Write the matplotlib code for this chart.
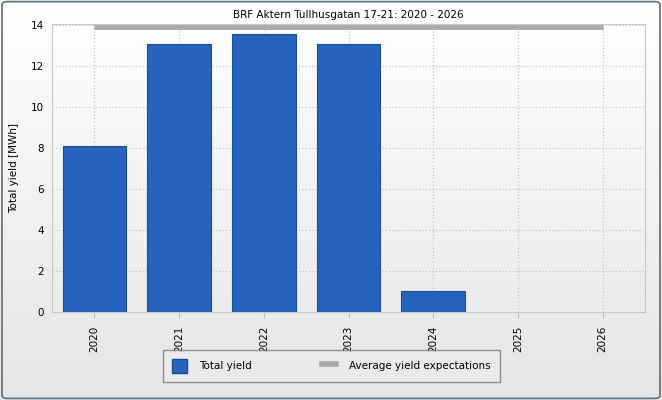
import matplotlib
matplotlib.use("Agg")
import matplotlib.pyplot as plt
import numpy as np
from matplotlib.patches import FancyBboxPatch, Patch
from matplotlib.lines import Line2D

years = ["2020", "2021", "2022", "2023", "2024", "2025", "2026"]
total_yield = [8.12, 13.1, 13.6, 13.1, 1.03, 0, 0]
avg_expectation = 13.9

plt.rcParams['font.family'] = ['DejaVu Sans']
fig = plt.figure(figsize=(6.62, 4.0), dpi=100)

# background gradient
bg = fig.add_axes([0, 0, 1, 1], zorder=-10)
grad = np.linspace(1.0, 0.90, 256).reshape(-1, 1)
bg.imshow(np.dstack([grad, grad, grad]), aspect='auto', extent=[0, 1, 0, 1])
bg.set_xlim(0, 1); bg.set_ylim(0, 1); bg.axis('off')
bg.add_patch(FancyBboxPatch((0.003, 0.004), 0.994, 0.992,
                            boxstyle="round,pad=0,rounding_size=0.008",
                            fill=False, edgecolor='#5f6b75', linewidth=1.2,
                            transform=bg.transAxes))

ax = fig.add_axes([52/662, 88/400, 593/662, 288/400])
ax.patch.set_alpha(0)
x = np.arange(len(years))
vals = np.array(total_yield)
nz = vals > 0
ax.bar(x[nz], vals[nz], width=0.75, color='#2563BE', edgecolor='#1D4C93',
       linewidth=0.8, zorder=3)
ax.plot([x[0], x[-1]], [avg_expectation, avg_expectation], color='#A9A9A9',
        linewidth=3.5, solid_capstyle='butt', zorder=4)

ax.set_xlim(-0.5, len(years) - 0.5)
ax.set_ylim(0, 14.07)
ax.set_yticks([0, 2, 4, 6, 8, 10, 12, 14])
ax.set_xticks(x)
ax.set_xticklabels(years, rotation=90, fontsize=7.5)
ax.tick_params(axis='y', labelsize=7.5, length=0, pad=6)
ax.tick_params(axis='x', length=4, color='#bbbbbb', pad=6)
ax.grid(True, color='#c0c0c0', linestyle=(0, (1, 2)), linewidth=0.8, zorder=0)
for s in ax.spines.values():
    s.set_color('#c8c8c8')
ax.set_ylabel("Total yield [MWh]", fontsize=7.5, labelpad=8)
ax.set_title("BRF Aktern Tullhusgatan 17-21: 2020 - 2026", fontsize=7.5, pad=4)

handles = [Patch(facecolor='#2563BE', edgecolor='#1D4C93', label='Total yield'),
           Line2D([0], [0], color='#A9A9A9', linewidth=4, label='Average yield expectations')]
leg = fig.legend(handles=handles, loc='lower left', ncol=2,
                 bbox_to_anchor=(163/662, 18/400, 337/662, 30/400), mode='expand',
                 fontsize=7.5, frameon=True, fancybox=False, borderaxespad=0,
                 borderpad=0.9,
                 handlelength=1.4, handleheight=1.6, handletextpad=1.2, columnspacing=4)
leg.get_frame().set_edgecolor('#6d7a86')
leg.get_frame().set_facecolor('#ececec')
leg.get_frame().set_linewidth(1.0)

fig.savefig("out.png", dpi=100)
